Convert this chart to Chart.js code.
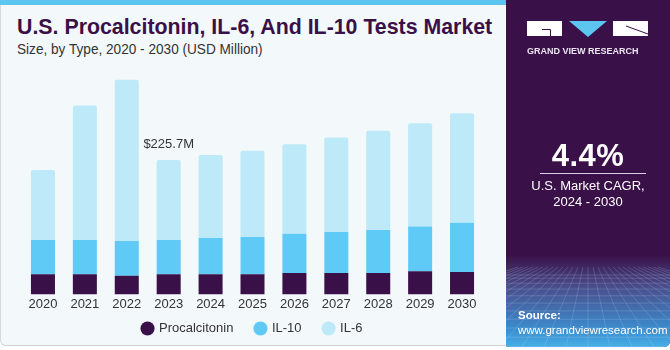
<!DOCTYPE html>
<html><head><meta charset="utf-8">
<script src="https://cdn.jsdelivr.net/npm/chart.js@4/dist/chart.umd.min.js"></script>
<style>
html,body{margin:0;padding:0;background:#fff;width:670px;height:350px;overflow:hidden;font-family:"Liberation Sans",Arial,sans-serif}
#card{position:absolute;left:0;top:0;width:505px;height:346px;background:#f3f8fb;border-left:1px solid #d6d9dc;border-bottom:1px solid #cfd2d5;border-radius:0 0 0 6px;box-sizing:border-box}
#stripe{position:absolute;left:0;top:0;width:506px;height:5px;background:#5cc6f0}
#title{position:absolute;left:17px;top:14px;font-weight:bold;font-size:22px;color:#3a1048;white-space:nowrap;transform-origin:0 0}
#sub{position:absolute;left:17px;top:41px;font-size:14px;color:#333;white-space:nowrap;transform-origin:0 0}
#cv{position:absolute;left:0;top:60px}
#side{position:absolute;left:506px;top:0;width:164px;height:347px;background:#3a1048;border-radius:0 0 6px 0;overflow:hidden;color:#fff}
#deco{position:absolute;left:0;top:0}
#gvr{position:absolute;left:21px;top:46px;width:121px;font-weight:bold;font-size:9px;color:#ece6f0;white-space:nowrap}
#pct{position:absolute;left:0;width:164px;top:138px;text-align:center;font-weight:bold;font-size:31px;letter-spacing:0.5px}
#rule{position:absolute;left:34px;top:173px;width:106px;height:1px;background:#d8cfe0}
#cagr{position:absolute;left:0;width:164px;top:178px;text-align:center;font-size:13px;line-height:16px}
#src{position:absolute;left:12px;top:308px;font-size:11.5px;line-height:14.5px}
</style></head><body>
<div id="card"></div>
<div id="stripe"></div>
<div id="title">U.S. Procalcitonin, IL-6, And IL-10 Tests Market</div>
<div id="sub">Size, by Type, 2020 - 2030 (USD Million)</div>
<canvas id="cv" width="506" height="287"></canvas>
<div id="side">
  <canvas id="deco" width="164" height="347"></canvas>
  <div id="gvr">GRAND VIEW RESEARCH</div>
  <div id="pct">4.4%</div>
  <div id="rule"></div>
  <div id="cagr">U.S. Market CAGR,<br>2024 - 2030</div>
  <div id="src"><b>Source:</b><br>www.grandviewresearch.com</div>
</div>
<script>
const years = ["2020","2021","2022","2023","2024","2025","2026","2027","2028","2029","2030"];
const procalcitonin = [33.7,33.7,31.3,33.7,33.7,33.7,35.9,35.9,35.9,38.7,37.6];
const il10 = [57.8,57.8,58.4,57.8,61.1,62.8,65.7,69.0,72.4,75.1,82.5];
const il6 = [117.4,225.7,270.6,134.2,139.3,144.8,150.4,158.3,166.2,173.5,184.1];
const annotatedIndex = 3;
const annotatedLabel = "$225.7M";

function fitText(id, w){
  const el=document.getElementById(id);
  const s=w/el.scrollWidth; el.style.transform='scaleX('+s+')'; el.style.transformOrigin='0 0';
}
fitText('title',475); fitText('sub',246);
(function(){
  const el=document.getElementById('gvr');
  el.style.letterSpacing='0px';
  const sp=(121-el.scrollWidth)/18;
  el.style.letterSpacing=sp+'px';
})();

// side panel decoration: gradient, grid and logo marks
(function(){
  const c=document.getElementById('deco').getContext('2d');
  const g=c.createLinearGradient(0,255,0,347);
  g.addColorStop(0,'#3a1048'); g.addColorStop(0.35,'#4a4e8c'); g.addColorStop(0.8,'#3c8ccd'); g.addColorStop(1,'#46afe6');
  c.fillStyle=g; c.fillRect(0,255,164,92);
  c.strokeStyle='rgba(200,220,255,0.28)'; c.lineWidth=0.7;
  for(let i=0;i<12;i++){const y=275+Math.pow(i,1.35)*3.2;c.beginPath();c.moveTo(0,y);c.lineTo(164,y);c.stroke();}
  for(let i=-14;i<=14;i++){c.beginPath();c.moveTo(82+i*5,267);c.lineTo(82+i*22,347);c.stroke();}
  // logo
  c.fillStyle='#ffffff';
  c.fillRect(21,21,35,15);
  c.fillRect(107,21,35,15);
  c.fillStyle='#5cc6f0';
  c.beginPath(); c.moveTo(63,21); c.lineTo(101,21); c.lineTo(82,37); c.closePath(); c.fill();
  c.strokeStyle='#3a1048'; c.lineWidth=1;
  c.beginPath(); c.moveTo(36,29.5); c.lineTo(44.5,29.5); c.lineTo(44.5,36); c.stroke();
  c.beginPath(); c.moveTo(120,26); c.lineTo(142,34); c.stroke();
})();

const valueLabel = {
  id:'valueLabel',
  beforeDraw(chart){ chart.scales.x._computeLabelArea = function(){ return undefined; }; },
  afterDatasetsDraw(chart){
    const ctx=chart.ctx, x=chart.scales.x, y=chart.scales.y;
    const tot=procalcitonin[annotatedIndex]+il10[annotatedIndex]+il6[annotatedIndex];
    ctx.save(); ctx.font='13px "Liberation Sans", Arial'; ctx.fillStyle='#333';
    ctx.textAlign='center'; ctx.textBaseline='bottom';
    ctx.fillText(annotatedLabel, x.getPixelForValue(annotatedIndex), y.getPixelForValue(tot)-9);
    ctx.restore();
  }
};

new Chart(document.getElementById('cv'),{
  type:'bar',
  data:{labels:years,datasets:[
    {label:'Procalcitonin',data:procalcitonin,backgroundColor:'#3a1048'},
    {label:'IL-10',data:il10,backgroundColor:'#5fcaf5'},
    {label:'IL-6',data:il6,backgroundColor:'#bde9f8',borderRadius:{topLeft:2,topRight:2},borderSkipped:'bottom'}
  ]},
  options:{
    responsive:false,animation:false,
    datasets:{bar:{barPercentage:0.573,categoryPercentage:1}},
    layout:{padding:{left:22,right:23,top:8,bottom:2}},
    scales:{
      x:{stacked:true,grid:{display:false,drawTicks:false},border:{display:false},
         ticks:{color:'#333',font:{family:'"Liberation Sans", Arial',size:13},padding:2},
         afterFit:(s)=>{s.height-=14;}},
      y:{stacked:true,display:false,min:0,max:380}
    },
    plugins:{
      legend:{position:'bottom',labels:{usePointStyle:true,pointStyle:'circle',boxWidth:10,boxHeight:10,padding:22,color:'#333',font:{family:'"Liberation Sans", Arial',size:13}}},
      tooltip:{enabled:false}
    }
  },
  plugins:[valueLabel]
});
</script>
</body></html>
